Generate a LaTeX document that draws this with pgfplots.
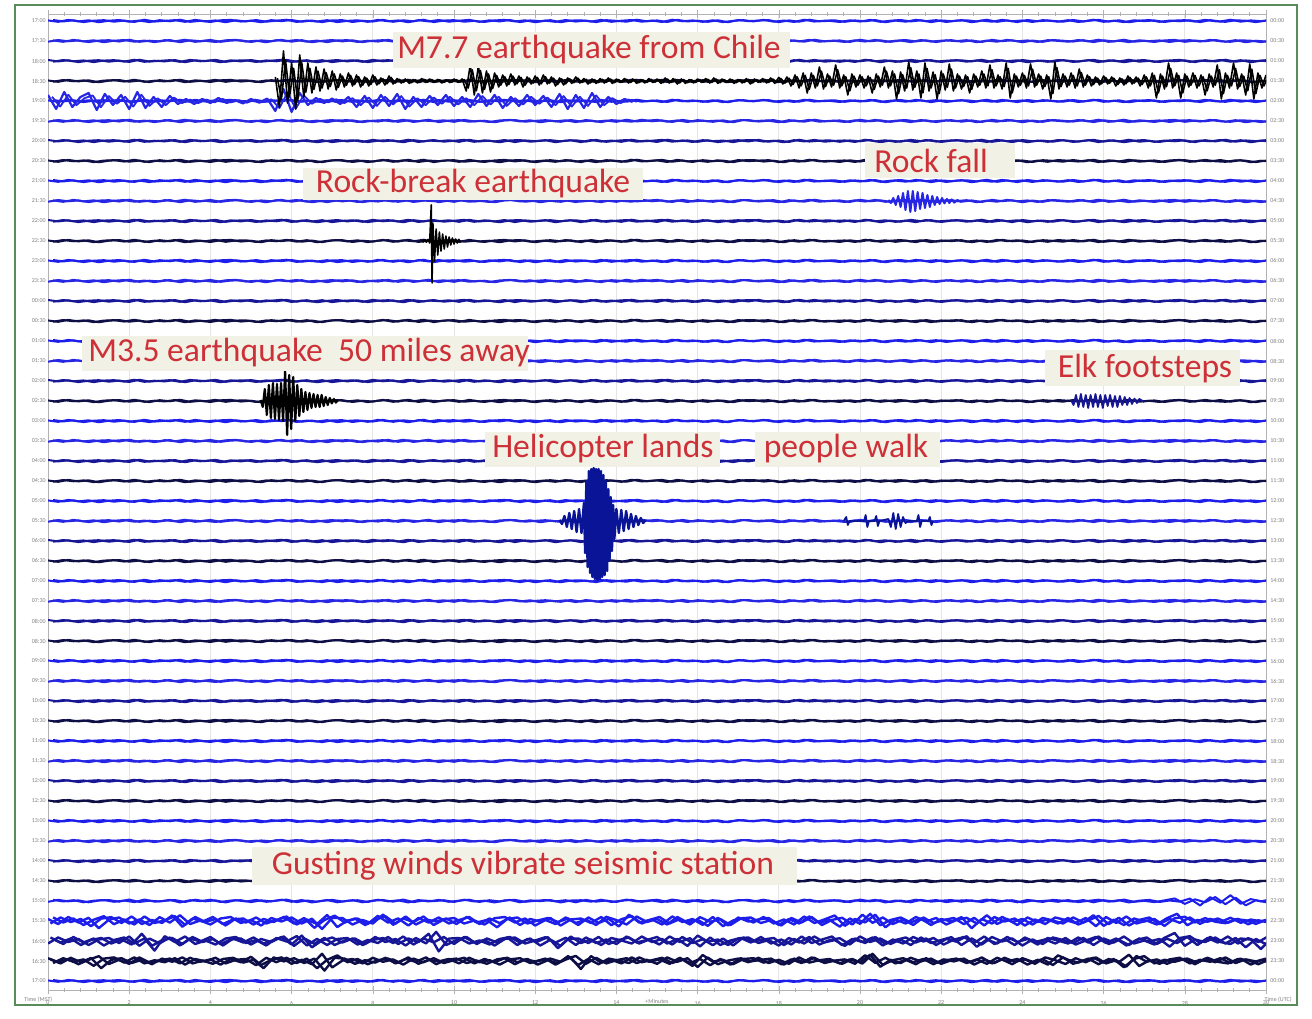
\documentclass[border=0pt]{standalone}
\usepackage{pgfplots}
\pgfplotsset{compat=1.18}
\usepackage{pgfplotstable}
\usepackage{fontspec}
\setmainfont{Carlito}
\definecolor{trA}{RGB}{30,30,235}
\definecolor{trB}{RGB}{38,38,228}
\definecolor{trC}{RGB}{22,22,150}
\definecolor{trD}{RGB}{14,14,70}
\definecolor{heli}{RGB}{10,20,150}
\definecolor{labred}{RGB}{205,48,55}
\definecolor{boxbg}{RGB}{242,241,230}
\definecolor{frameg}{RGB}{90,140,90}

% background noise: a b c ; wind envelopes e1 (row 45) e2 (row 46) e3 (row 47) e4 (row 44)
\pgfplotstableread{
a b c e1 e2 e3 e4
0.04 -0.05 0.07 2.5 2.5 2 1
-0.06 0.07 -0.03 2.5 2.5 2 1
0.08 -0.02 0.05 2.5 2.5 2 1
-0.03 0.04 -0.08 2.5 2.5 2 1
0.05 -0.08 0.02 3.2 2.5 3 1
-0.09 0.03 0.06 4 2.5 4 1
0.02 0.06 -0.05 3.2 2.5 3 1
0.07 -0.04 0.03 2.5 2.5 2 1
-0.05 0.09 -0.07 2.5 2.5 2 1
0.03 -0.06 0.09 2.5 4 2 1
-0.08 0.02 -0.04 2.5 6 2 1
0.06 -0.03 0.01 3.2 4 2 1
-0.02 0.07 0.06 4 2.5 2 1
0.09 -0.09 -0.06 3.2 2.5 2 1
-0.06 0.05 0.08 2.5 2.5 2 1
0.01 -0.01 -0.02 2.5 2.5 2 1
-0.07 0.08 0.04 2.5 2.5 2 1
0.05 -0.06 -0.09 2.5 2.5 2 1
0.08 0.03 0.05 2.5 2.5 2 1
-0.04 0.05 -0.03 2.5 2.5 2 1
0.02 -0.07 0.07 2.5 2.5 3 1
-0.09 0.04 -0.05 2.5 2.5 4 1
0.06 -0.02 0.02 2.5 2.5 3 1
-0.01 0.08 0.09 2.5 2.5 2 1
0.07 -0.05 -0.07 2.5 3.5 2 1
-0.05 0.06 0.03 2.5 4.5 2 1
0.03 -0.09 -0.04 3.8 3.5 4 1
-0.08 0.01 0.06 5 2.5 6 1
0.04 0.07 -0.08 3.8 2.5 4 1
0.06 -0.03 0.01 2.5 2.5 2 1
-0.07 0.05 0.05 2.5 2.5 2 1
0.02 -0.08 -0.06 2.5 2.5 2 1
-0.04 0.02 0.08 3.2 2.5 2 1
0.08 0.06 -0.02 4 2.5 2 1
-0.06 -0.04 0.04 3.2 2.5 2 1
0.05 0.09 -0.09 2.5 2.5 2 1
-0.02 -0.07 0.06 2.5 2.5 2 1
0.09 0.03 -0.03 2.5 4 2 1
-0.08 -0.01 0.07 2.5 6.5 2 1
0.03 0.05 -0.05 2.5 4 2 1
0.06 -0.06 0.02 2.5 2.5 2 1
-0.05 0.08 0.08 2.5 2.5 2 1
0.01 -0.03 -0.06 2.5 2.5 2 1
-0.07 0.02 0.05 2.5 2.5 2 1
0.04 -0.09 -0.03 3.5 2.5 2 1
0.08 0.04 0.07 2.5 2.5 2 1
-0.03 0.07 -0.08 2.5 2.5 2 1
0.05 -0.05 0.04 2.5 2.5 2 1
-0.09 0.01 -0.01 2.5 2.5 2 1
0.02 0.06 0.06 2.5 3.2 2 1
-0.06 -0.02 -0.09 2.5 4 2 1
0.07 0.05 0.03 2.5 3.2 3.5 1
-0.04 -0.08 0.05 2.5 2.5 5 1
0.03 0.07 -0.04 2.5 2.5 3.5 1
-0.08 -0.04 0.08 2.5 2.5 2 1
0.06 0.03 -0.06 3.5 2.5 2 1
0.01 -0.06 0.02 4.5 2.5 2 1
-0.05 0.09 0.07 3.5 2.5 2 1
0.09 -0.03 -0.05 2.5 2.5 2 1
-0.02 0.02 0.03 2.5 2.5 2 1
0.04 0.08 -0.07 2.5 2.5 2 1
-0.07 -0.05 0.09 2.5 2.5 2 1
0.08 0.04 -0.02 2.5 2.5 2 1
-0.03 -0.07 0.04 2.5 3.5 3.5 1
0.02 0.06 -0.06 3.2 4.5 5 1
-0.06 -0.01 0.05 4 3.5 3.5 1
0.05 0.03 -0.08 3.2 2.5 2 1
-0.09 -0.08 0.01 2.5 2.5 2 1
0.07 0.05 0.06 2.5 2.5 2 1
-0.01 0.07 -0.03 2.5 2.5 2 1
0.03 -0.04 0.08 2.5 2.5 2 1
0.06 0.02 -0.05 2.5 2.5 2 1
-0.08 -0.09 0.03 2.5 2.5 2 1
0.04 0.06 -0.07 2.5 2.5 2 1
-0.05 -0.03 0.09 2.5 2.5 2 1
0.09 0.08 -0.04 2.5 2.5 2 1
-0.02 -0.05 0.02 4 3.5 2 1
0.01 0.01 0.05 5.5 4.5 2 1
-0.07 0.04 -0.06 4 3.5 2 1
0.05 -0.07 0.04 2.5 2.5 2 1
-0.04 0.09 -0.02 3.5 2.5 3.2 1
0.08 -0.02 0.07 4.5 2.5 4.5 1
-0.06 0.05 -0.09 3.5 2.5 3.2 1
0.02 -0.06 0.03 2.5 2.5 2 1
0.07 0.03 -0.05 2.5 2.5 2 1
-0.03 -0.08 0.08 2.5 2.5 2 1
0.05 0.07 -0.01 2.5 2.5 2 1
-0.08 -0.04 0.06 2.5 2.5 2 1
0.04 0.02 -0.07 2.5 2.5 2 1
-0.01 0.06 0.02 2.5 3.2 2 1
0.06 -0.05 0.05 3.2 4 2 1
-0.09 0.04 -0.03 4 3.2 2 1
0.03 -0.07 0.09 3.2 2.5 2 1
-0.05 0.08 -0.06 2.5 2.5 2 1
0.08 -0.01 0.04 2.5 2.5 2 1
-0.02 0.05 -0.08 2.5 2.5 2 1
0.04 -0.09 0.07 2.5 2.5 2 1
-0.07 0.03 -0.02 2.5 2.5 2 1
0.06 -0.06 0.03 2.5 2.5 3 1
0.01 0.07 -0.05 2.5 2.5 4 1
-0.05 0.02 0.06 2.5 2.5 3 1
0.07 -0.04 -0.07 2.5 2.5 2 1
-0.03 0.06 0.01 2.5 2.5 2 1
0.09 -0.08 0.08 3.2 2.5 2 1
-0.06 0.05 -0.04 4 2.5 2 1
0.02 -0.03 0.05 3.2 2.5 2 1
-0.08 0.09 -0.09 2.5 2.5 3.5 1
0.05 -0.05 0.02 2.5 2.5 5 1
-0.01 0.01 0.07 2.5 2.5 3.5 1
0.04 -0.07 -0.06 2.5 2.5 2 1
-0.07 0.04 0.03 3.5 4 2 1
0.03 0.08 -0.02 4.5 5 2 2
0.06 -0.06 0.05 3.5 4 2 3
-0.04 0.03 -0.08 1.8 2.5 2 3.5
0.08 -0.02 0.06 1.8 2.5 2 4
-0.02 0.07 -0.03 1.8 2.5 2 3.5
-0.06 -0.05 0.09 1.8 2.5 2 4
0.05 0.06 -0.05 1.8 2.5 2 3.5
0.02 -0.09 0.04 1.8 3.5 2 3
-0.08 0.02 -0.01 1.8 5 2 2.5
0.03 -0.04 0.06 1.8 4 2 2
}\noise

% M7.7 Chile earthquake on row 3, from minute 2.8 in steps of 0.05
\pgfplotstableread{
q
0.2
-1.3
1.5
-1.1
0.9
-1.4
1.3
-0.8
0.9
-0.6
0.7
-0.5
0.6
-0.4
0.5
-0.45
0.35
-0.3
0.4
-0.25
0.3
-0.3
0.2
-0.25
0.3
-0.2
0.15
-0.2
0.25
-0.15
0.12
-0.1
0.1
-0.12
0.08
-0.1
0.12
-0.08
0.1
-0.06
0.08
-0.1
0.06
-0.08
0.1
-0.07
0.1
-0.5
0.8
-0.7
0.75
-0.6
0.5
-0.55
0.4
-0.3
0.3
-0.25
0.35
-0.2
0.25
-0.3
0.2
-0.15
0.25
-0.2
0.3
-0.15
0.2
-0.25
0.15
-0.2
0.15
-0.12
0.2
-0.1
0.12
-0.15
0.1
-0.12
0.12
-0.1
0.15
-0.12
0.1
-0.08
0.12
-0.1
0.1
-0.12
0.08
-0.1
0.12
-0.08
0.1
-0.12
0.15
-0.1
0.12
-0.15
0.1
-0.12
0.08
-0.1
0.1
-0.08
0.12
-0.1
0.15
-0.12
0.1
-0.08
0.1
-0.12
0.08
-0.1
0.12
-0.15
0.1
-0.08
0.12
-0.1
0.15
-0.12
0.18
-0.15
0.2
-0.25
0.3
-0.35
0.4
-0.6
0.4
-0.35
0.7
-0.4
0.35
-0.3
0.8
-0.35
0.3
-0.7
0.35
-0.3
0.3
-0.35
0.25
-0.6
0.35
-0.3
0.7
-0.35
0.5
-0.9
0.45
-0.5
0.95
-0.45
0.5
-0.85
0.9
-0.5
0.45
-0.9
0.5
-0.45
0.85
-0.5
0.35
-0.4
0.3
-0.6
0.35
-0.3
0.5
-0.35
0.8
-0.35
0.3
-0.4
0.9
-0.85
0.35
-0.3
0.4
-0.35
0.85
-0.3
0.35
-0.4
0.3
-0.9
0.95
-0.4
0.35
-0.3
0.4
-0.35
0.6
-0.3
0.3
-0.25
0.2
-0.2
0.25
-0.15
0.2
-0.25
0.15
-0.2
0.25
-0.15
0.2
-0.25
0.3
-0.35
0.4
-0.85
0.35
-0.4
0.9
-0.35
0.4
-0.85
0.35
-0.3
0.4
-0.35
0.3
-0.7
0.35
-0.3
0.8
-0.9
0.4
-0.35
0.9
-0.4
0.35
-0.7
0.85
-0.9
0.4
-0.35
0.3
}\quake

% surface waves on row 4, from minute 0 in steps of 0.1
\pgfplotstableread{
w
0.3
-0.4
0.45
-0.3
0.2
0.4
-0.45
0.35
-0.2
0.3
-0.4
0.45
-0.35
0.2
-0.3
0.25
-0.15
0.1
-0.15
0.1
-0.1
0.15
-0.1
0.05
-0.12
0.1
-0.08
0.12
-0.5
0.6
-0.55
0.4
-0.2
0.15
-0.1
0.12
-0.15
0.2
-0.3
0.25
-0.35
0.3
-0.25
0.35
-0.4
0.2
-0.3
0.25
-0.2
0.3
-0.25
0.2
-0.3
0.35
-0.25
0.3
-0.35
0.2
-0.25
0.3
-0.2
0.25
-0.3
0.35
-0.4
0.3
-0.35
0.4
-0.3
0.2
-0.15
0.1
-0.05
}\surfw

\pgfplotstableread{
x y
4.60 0.05
4.62 -0.05
4.64 0.06
4.66 -0.06
4.68 0.08
4.70 -0.1
4.72 1.8
4.73 -2.1
4.74 0.9
4.76 -1.0
4.78 0.6
4.80 -0.7
4.82 0.45
4.84 -0.5
4.86 0.35
4.88 -0.4
4.90 0.25
4.92 -0.3
4.94 0.2
4.96 -0.2
4.98 0.15
5.00 -0.15
5.02 0.1
5.04 -0.1
5.06 0.08
5.08 -0.08
}\rockbreak

\pgfplotstableread{
x y
10.35 0.05
10.38 -0.1
10.41 0.15
10.44 -0.2
10.47 0.25
10.50 -0.3
10.53 0.4
10.56 -0.45
10.59 0.5
10.62 -0.55
10.65 0.5
10.68 -0.5
10.71 0.45
10.74 -0.4
10.77 0.4
10.80 -0.35
10.83 0.3
10.86 -0.3
10.89 0.25
10.92 -0.2
10.95 0.2
10.98 -0.15
11.01 0.15
11.04 -0.12
11.07 0.1
11.10 -0.1
11.13 0.08
11.16 -0.08
11.20 0.05
11.25 -0.05
}\rockfall

\pgfplotstableread{
x y
2.62 0.05
2.645 -0.3
2.67 0.6
2.695 -0.7
2.72 0.8
2.745 -0.85
2.77 0.9
2.795 -0.9
2.82 0.85
2.845 -0.95
2.87 0.9
2.895 -1.0
2.92 1.5
2.945 -1.7
2.97 1.3
2.995 -1.4
3.02 1.2
3.045 -1.0
3.07 0.8
3.095 -0.75
3.12 0.6
3.145 -0.55
3.17 0.45
3.195 -0.45
3.22 0.4
3.245 -0.35
3.27 0.35
3.295 -0.3
3.32 0.3
3.345 -0.3
3.37 0.3
3.395 -0.25
3.42 0.2
3.445 -0.2
3.47 0.15
3.495 -0.12
3.52 0.1
3.545 -0.08
3.57 0.05
}\mthree

\pgfplotstableread{
x y
12.60 0.05
12.63 -0.2
12.66 0.3
12.69 -0.3
12.72 0.35
12.75 -0.3
12.78 0.3
12.81 -0.35
12.84 0.3
12.87 -0.3
12.90 0.35
12.93 -0.3
12.96 0.3
12.99 -0.35
13.02 0.3
13.05 -0.25
13.08 0.3
13.11 -0.3
13.14 0.25
13.17 -0.3
13.20 0.25
13.23 -0.2
13.26 0.2
13.29 -0.2
13.32 0.15
13.35 -0.15
13.38 0.12
13.41 -0.1
13.44 0.1
13.50 -0.05
}\elk

\pgfplotstableread{
x y
6.30 0.05
6.33 -0.15
6.36 0.25
6.39 -0.3
6.42 0.4
6.45 -0.4
6.48 0.5
6.51 -0.55
6.54 0.6
6.57 -0.6
6.60 0.9
6.615 -1.6
6.63 2.0
6.645 -2.3
6.66 2.5
6.675 -2.6
6.69 2.6
6.705 -2.8
6.72 2.65
6.735 -2.9
6.75 2.6
6.765 -2.95
6.78 2.6
6.795 -2.9
6.81 2.5
6.825 -2.8
6.84 2.3
6.855 -2.7
6.87 2.0
6.885 -2.5
6.90 1.6
6.915 -2.0
6.93 1.2
6.945 -1.5
6.96 0.8
6.975 -0.9
7.00 0.6
7.03 -0.6
7.06 0.55
7.09 -0.5
7.12 0.5
7.15 -0.4
7.18 0.35
7.21 -0.3
7.24 0.25
7.27 -0.2
7.30 0.15
7.33 -0.1
7.36 0.05
}\heli

\pgfplotstableread{
x y
9.80 0
9.83 0.2
9.85 -0.2
9.87 0
10.05 0
10.07 0.3
10.09 -0.3
10.11 0
10.18 0
10.20 0.25
10.22 -0.25
10.24 0
10.35 0.1
10.38 -0.3
10.41 0.4
10.44 -0.4
10.47 0.35
10.50 -0.3
10.53 0.2
10.56 -0.1
10.60 0
10.70 0
10.72 0.3
10.74 -0.3
10.76 0
10.84 0
10.86 0.2
10.88 -0.2
10.90 0
}\walk

\begin{document}
\begin{tikzpicture}
\useasboundingbox (0,0) rectangle (656pt,509pt);
\fill[white] (0,0) rectangle (656pt,509pt);
\draw[frameg, line width=0.8pt] (7.5pt,6.5pt) rectangle (648.5pt,506.5pt);
\begin{axis}[
  at={(24pt,14pt)}, anchor=south west,
  width=609pt, height=488pt, scale only axis,
  xmin=0, xmax=15, ymin=-48.45, ymax=0.35,
  xtick={0,...,15}, minor x tick num=4,
  xtick pos=both, xticklabel pos=bottom,
  xticklabel={\pgfmathtruncatemacro\tv{2*\tick}\tv},
  xticklabel style={font=\fontsize{3}{3}\selectfont, text=gray},
  ytick=\empty,
  xmajorgrids, major grid style={gray!20, line width=0.4pt},
  axis line style={gray!60, line width=0.4pt},
  tick style={gray!60, line width=0.3pt},
  major tick length=4pt, minor tick length=2pt, tick align=center,
  every axis plot/.append style={line width=1pt, line join=round},
]
\pgfplotsinvokeforeach{0,4,8,12,16,20,24,28,32,36,40,48}{
  \addplot[trA] table[x expr=\coordindex*0.125, y expr=0.7*\thisrow{a}-#1] {\noise};
  \addplot[trA] table[x expr=\coordindex*0.125+0.0625, y expr=0.7*\thisrow{c}-#1] {\noise};
}
\pgfplotsinvokeforeach{1,5,9,13,17,21,25,29,33,37,41}{
  \addplot[trB] table[x expr=\coordindex*0.125, y expr=0.7*\thisrow{b}-#1] {\noise};
  \addplot[trB] table[x expr=\coordindex*0.125+0.0625, y expr=0.7*\thisrow{a}-#1] {\noise};
}
\pgfplotsinvokeforeach{2,6,10,14,18,22,26,30,34,38,42}{
  \addplot[trC] table[x expr=\coordindex*0.125, y expr=0.7*\thisrow{c}-#1] {\noise};
  \addplot[trC] table[x expr=\coordindex*0.125+0.0625, y expr=0.7*\thisrow{b}-#1] {\noise};
}
\pgfplotsinvokeforeach{3,7,11,15,19,23,27,31,35,39,43}{
  \addplot[trD] table[x expr=\coordindex*0.125, y expr=0.7*\thisrow{a}-#1] {\noise};
  \addplot[trD] table[x expr=\coordindex*0.125+0.0625, y expr=0.7*\thisrow{b}-#1] {\noise};
}
% windy rows
\addplot[trA] table[x expr=\coordindex*0.125, y expr=0.8*\thisrow{b}*\thisrow{e4}-44] {\noise};
\addplot[trA] table[x expr=\coordindex*0.125+0.0625, y expr=0.8*\thisrow{c}*\thisrow{e4}-44] {\noise};
\addplot[trA, line width=1.2pt] table[x expr=\coordindex*0.125, y expr=\thisrow{a}*\thisrow{e1}-45] {\noise};
\addplot[trA, line width=1.2pt] table[x expr=\coordindex*0.125+0.0625, y expr=\thisrow{c}*\thisrow{e1}-45] {\noise};
\addplot[trA, line width=1.2pt] table[x expr=\coordindex*0.125+0.03, y expr=\thisrow{b}*\thisrow{e1}-45] {\noise};
\addplot[trC, line width=1.2pt] table[x expr=\coordindex*0.125, y expr=\thisrow{b}*\thisrow{e2}-46] {\noise};
\addplot[trC, line width=1.2pt] table[x expr=\coordindex*0.125+0.0625, y expr=\thisrow{a}*\thisrow{e2}-46] {\noise};
\addplot[trC, line width=1.2pt] table[x expr=\coordindex*0.125+0.03, y expr=\thisrow{c}*\thisrow{e2}-46] {\noise};
\addplot[trD, line width=1.2pt] table[x expr=\coordindex*0.125, y expr=\thisrow{c}*\thisrow{e3}-47] {\noise};
\addplot[trD, line width=1.2pt] table[x expr=\coordindex*0.125+0.0625, y expr=\thisrow{b}*\thisrow{e3}-47] {\noise};
\addplot[trD, line width=1.2pt] table[x expr=\coordindex*0.125+0.03, y expr=\thisrow{a}*\thisrow{e3}-47] {\noise};
% events
\addplot[trB, line width=1.1pt] table[x index=0, y index=0, x expr=\coordindex*0.1, y expr=\thisrow{w}-4] {\surfw};
\addplot[trB, line width=0.9pt] table[x index=0, y index=0, x expr=\coordindex*0.1+0.05, y expr=0.7*\thisrow{w}-4] {\surfw};
\addplot[black, line width=0.8pt] table[x index=0, y index=0, x expr=2.8+\coordindex*0.05, y expr=\thisrow{q}-3] {\quake};
\addplot[black, line width=0.8pt] table[x index=0, y index=0, x expr=2.825+\coordindex*0.05, y expr=0.7*\thisrow{q}-3] {\quake};
\addplot[black, line width=0.8pt] table[x=x, y expr=\thisrow{y}-11] {\rockbreak};
\addplot[trB, line width=1pt] table[x=x, y expr=\thisrow{y}-9] {\rockfall};
\addplot[black, line width=1.1pt] table[x=x, y expr=\thisrow{y}-19] {\mthree};
\addplot[trC, line width=0.9pt] table[x=x, y expr=\thisrow{y}-19] {\elk};
\addplot[heli, line width=1.2pt] table[x=x, y expr=\thisrow{y}-25] {\heli};
\addplot[heli, line width=0.9pt] table[x=x, y expr=\thisrow{y}-25] {\walk};
\end{axis}
% time labels
\foreach \i in {0,...,48}{
  \pgfmathtruncatemacro\hh{mod(floor(\i/2)+17,24)}
  \pgfmathtruncatemacro\hu{mod(floor(\i/2),24)}
  \pgfmathtruncatemacro\mm{mod(\i,2)}
  \node[anchor=east, inner sep=0pt, font=\fontsize{3}{3}\selectfont, text=gray] at (23pt,{498.5pt-10pt*\i}) {\ifnum\hh<10 0\fi\hh:\ifnum\mm=0 00\else 30\fi};
  \node[anchor=west, inner sep=0pt, font=\fontsize{3}{3}\selectfont, text=gray] at (635pt,{498.5pt-10pt*\i}) {\ifnum\hu<10 0\fi\hu:\ifnum\mm=0 00\else 30\fi};
}
\node[anchor=west, inner sep=0pt, font=\fontsize{3}{3}\selectfont, text=gray] at (12pt,9pt) {Time (MST)};
\node[inner sep=0pt, font=\fontsize{3}{3}\selectfont, text=gray] at (328.5pt,8.5pt) {+Minutes};
\node[anchor=east, inner sep=0pt, font=\fontsize{3}{3}\selectfont, text=gray] at (646pt,9pt) {Time (UTC)};
% annotation boxes
\begin{scope}[every node/.style={font=\fontsize{16.8}{20}\selectfont, text=labred, inner sep=0pt}]
\fill[boxbg] (196.5pt,475pt) rectangle (395pt,493pt);
\node at (294.5pt,484pt) {M7.7 earthquake from Chile};
\fill[boxbg] (432.5pt,420pt) rectangle (507.5pt,437.5pt);
\node at (465.5pt,428.5pt) {Rock fall};
\fill[boxbg] (151.5pt,409pt) rectangle (321.5pt,425pt);
\node at (236.5pt,417pt) {Rock-break earthquake};
\fill[boxbg] (41pt,323.5pt) rectangle (264pt,341pt);
\node at (154.5pt,332.5pt) {M3.5 earthquake\ \ 50 miles away};
\fill[boxbg] (522.5pt,316pt) rectangle (620pt,334pt);
\node at (572.5pt,324.5pt) {Elk footsteps};
\fill[boxbg] (242.5pt,275.5pt) rectangle (360pt,293pt);
\node at (301.5pt,284.5pt) {Helicopter lands};
\fill[boxbg] (377.5pt,275.5pt) rectangle (470pt,293pt);
\node at (423pt,284.5pt) {people walk};
\fill[boxbg] (126pt,66.5pt) rectangle (398.5pt,85.5pt);
\node at (261.5pt,76pt) {Gusting winds vibrate seismic station};
\end{scope}
\end{tikzpicture}
\end{document}
